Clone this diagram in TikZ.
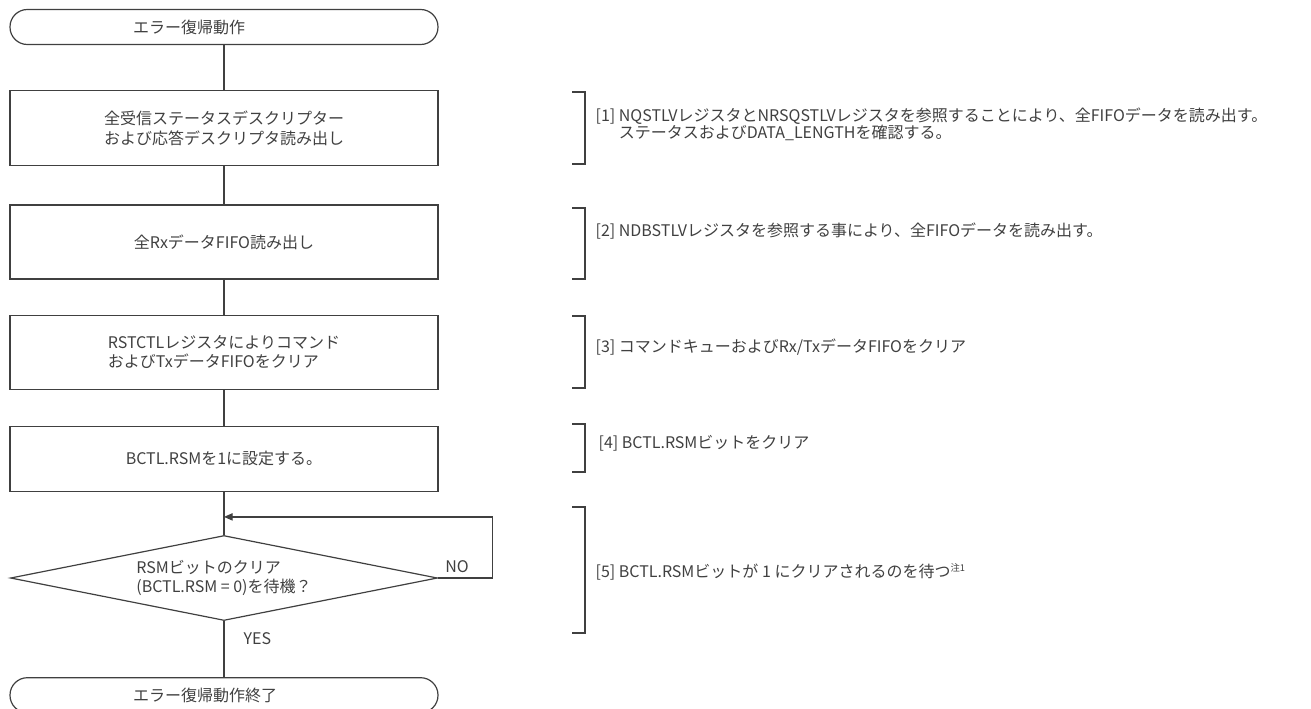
\documentclass[tikz,border=0pt]{standalone}
\usepackage{fontspec}
\setmainfont{Noto Sans CJK JP}
\usepackage{xcolor}
\usetikzlibrary{arrows.meta,positioning,shapes.geometric}
\definecolor{flowgray}{HTML}{404040}

\begin{document}
\begin{tikzpicture}[
        x=0.75pt, y=-0.75pt,
        color=flowgray,
        font=\fontsize{12}{14.5}\selectfont,
        every path/.style={line width=0.9pt},
        terminal/.style={draw, rounded corners=13pt, minimum width=321pt, minimum height=26.25pt, text width=136.5pt, inner xsep=92.25pt, inner ysep=0pt, align=left},
        procbox/.style={draw, minimum width=321pt, align=left},
        decision/.style={draw, diamond, aspect=5, minimum width=320.25pt, minimum height=63.75pt, inner sep=0pt, align=left},
        note/.style={anchor=west, align=left, inner sep=0pt, font=\fontsize{12}{12.5}\selectfont}
    ]
    \useasboundingbox (0,0) rectangle (1311,708);

    \node[terminal] (start) at (224,27) {エラー復帰動作};
    \node[procbox, minimum height=56.25pt, below=33.75pt of start] (readdesc) {全受信ステータスデスクリプター\\および応答デスクリプタ読み出し};
    \node[procbox, minimum height=55.5pt, below=28.5pt of readdesc] (readrx) {全RxデータFIFO読み出し};
    \node[procbox, minimum height=55.5pt, below=26.25pt of readrx] (clearfifo) {RSTCTLレジスタによりコマンド\\およびTxデータFIFOをクリア};
    \node[procbox, minimum height=48.75pt, below=27pt of clearfifo] (setrsm) {BCTL.RSMを1に設定する。};
    \node[decision, below=32.25pt of setrsm] (waitrsm) {RSMビットのクリア\\(BCTL.RSM = 0)を待機？};
    \node[terminal, below=42pt of waitrsm] (finish) {エラー復帰動作終了};

    \coordinate[above=13.5pt of waitrsm.north] (loopjoin);
    \coordinate[right=40.5pt of waitrsm.east] (loopright);

    \draw (start) -- (readdesc);
    \draw (readdesc) -- (readrx);
    \draw (readrx) -- (clearfifo);
    \draw (clearfifo) -- (setrsm);
    \draw (setrsm) -- (waitrsm);
    \draw (waitrsm) -- node[pos=0.32, right=11pt] {YES} (finish);
    \draw[-{Triangle[length=6.5pt,width=5.5pt]}] (waitrsm.east) -- node[pos=0.35, above] {NO} (loopright) |- (loopjoin);

    % notes on the right
    \node[note] (note1) at (595,124) {[1] NQSTLVレジスタとNRSQSTLVレジスタを参照することにより、全FIFOデータを読み出す。\\\hphantom{[1] }ステータスおよびDATA\_LENGTHを確認する。};
    \node[note] (note2) at (595,231) {[2] NDBSTLVレジスタを参照する事により、全FIFOデータを読み出す。};
    \node[note] (note3) at (595,347) {[3] コマンドキューおよびRx/TxデータFIFOをクリア};
    \node[note] (note4) at (598,443) {[4] BCTL.RSMビットをクリア};
    \node[note] (note5) at (595,572) {[5] BCTL.RSMビットが 1 にクリアされるのを待つ\raisebox{0.7ex}{\fontsize{7}{8}\selectfont 注1}};

    \foreach \ya/\yb in {92/164, 208/279, 316/388, 424/472, 507/633}
        \draw (572,\ya) -- (585,\ya) -- (585,\yb) -- (572,\yb);
\end{tikzpicture}
\end{document}
